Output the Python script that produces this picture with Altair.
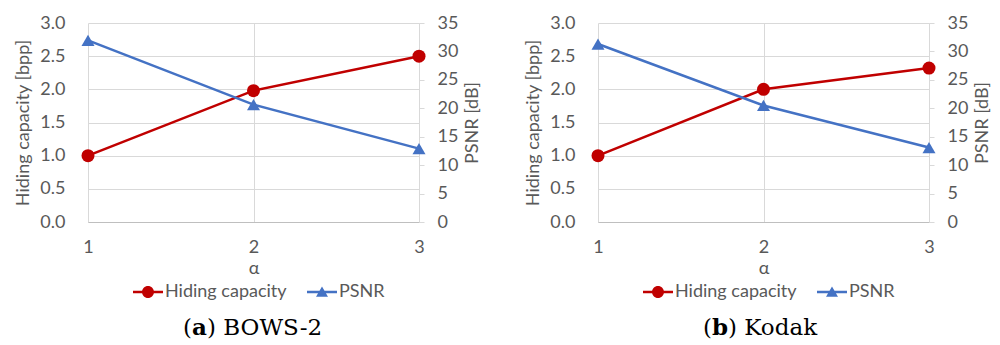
import altair as alt
import pandas as pd

alpha = [1, 2, 3]
hc_bows = [1.0, 1.98, 2.5]
psnr_bows = [31.95, 20.65, 12.9]
hc_kodak = [1.0, 2.0, 2.32]
psnr_kodak = [31.3, 20.5, 13.1]

series_names = ["Hiding capacity", "PSNR"]
caption_letters = ["a", "b"]
caption_names = ["BOWS-2", "Kodak"]
left_ticks = [0.0, 0.5, 1.0, 1.5, 2.0, 2.5, 3.0]
right_ticks = [0, 5, 10, 15, 20, 25, 30, 35]

RED = "#C00000"
BLUE = "#4472C4"
TXT = "#595959"
GRID = "#D9D9D9"
FONT = "Lato"
FS = 18

W, H = 331, 199

# legend symbols: line + marker (custom SVG paths)
CIRCLE_PATH = ("M-1,-0.085H1V0.085H-1Z "
               "M0.4,0A0.4,0.4 0 1,1 -0.4,0A0.4,0.4 0 1,1 0.4,0Z")
TRI_PATH = ("M-1,-0.085H1V0.085H-1Z "
            "M0,-0.36L0.4,0.32L-0.4,0.32Z")


def panel(hc, psnr, letter, name, xa, wbold):
    df = pd.DataFrame({"alpha": alpha, "hc": hc, "psnr": psnr})
    base = alt.Chart(df)
    x = alt.X(
        "alpha:O",
        scale=alt.Scale(type="point", padding=0),
        axis=alt.Axis(title="α", grid=True, labelAngle=0,
                      gridColor=GRID, domainColor="#BFBFBF", ticks=False,
                      labelPadding=16, titlePadding=3),
    )
    y_left = alt.Y(
        "hc:Q",
        scale=alt.Scale(domain=[0, 3], nice=False),
        axis=alt.Axis(values=left_ticks, format=".1f", orient="left",
                      title="Hiding capacity [bpp]", grid=True, gridColor=GRID,
                      domain=False, ticks=False, labelPadding=23,
                      titlePadding=7),
    )
    y_right = alt.Y(
        "psnr:Q",
        scale=alt.Scale(domain=[0, 35], nice=False),
        axis=alt.Axis(values=right_ticks, format="d", orient="right",
                      title="PSNR [dB]", titleAngle=270, titleBaseline="top",
                      grid=False, domain=True, domainColor=GRID, ticks=True,
                      tickSize=5, tickColor=GRID, labelPadding=13,
                      titlePadding=6),
    )
    hc_line = base.mark_line(color=RED, strokeWidth=2.5).encode(x=x, y=y_left)
    hc_pts = base.mark_point(filled=True, shape="circle", color=RED,
                             size=169, opacity=1).encode(x=x, y=y_left)
    ps_line = base.mark_line(color=BLUE, strokeWidth=2.5).encode(x=x, y=y_right)
    ps_pts = base.mark_point(filled=True, shape="triangle-up", color=BLUE,
                             size=169, opacity=1).encode(x=x, y=y_right)

    leg = alt.Legend(title=None, orient="none", legendX=45, legendY=254,
                     direction="horizontal", columns=2, symbolSize=900,
                     labelFont=FONT, labelFontSize=FS, labelColor=TXT,
                     labelOffset=2, columnPadding=20, padding=0,
                     symbolStrokeWidth=0)
    ldf = pd.DataFrame({"series": series_names})
    legend_layer = alt.Chart(ldf).mark_point(filled=True, opacity=1, size=900).encode(
        color=alt.Color("series:N",
                        scale=alt.Scale(domain=series_names, range=[RED, BLUE]),
                        legend=leg),
        shape=alt.Shape("series:N",
                        scale=alt.Scale(domain=series_names,
                                        range=[CIRCLE_PATH, TRI_PATH]),
                        legend=leg),
    ).transform_filter("false")

    cy = 305
    cdf = pd.DataFrame({"l": [letter], "n": [name]})
    cbase = alt.Chart(cdf)
    c1 = cbase.mark_text(text="(", font="DejaVu Serif", fontSize=23,
                         align="right", baseline="middle", color="black").encode(
        x=alt.value(xa), y=alt.value(cy))
    c2 = cbase.mark_text(font="DejaVu Serif", fontSize=23, fontWeight="bold",
                         align="left", baseline="middle", color="black").encode(
        x=alt.value(xa), y=alt.value(cy), text="l:N")
    c3 = cbase.transform_calculate(n2="') ' + datum.n").mark_text(
        font="DejaVu Serif", fontSize=23, align="left", baseline="middle",
        color="black").encode(x=alt.value(xa + wbold), y=alt.value(cy),
                              text="n2:N")

    left = alt.layer(hc_line, hc_pts)
    right = alt.layer(ps_line, ps_pts)
    return alt.layer(left, right, legend_layer, c1, c2, c3).resolve_scale(
        y="independent").properties(width=W, height=H)


pa = panel(hc_bows, psnr_bows, caption_letters[0], caption_names[0], 104, 15)
pb = panel(hc_kodak, psnr_kodak, caption_letters[1], caption_names[1], 114, 16)

chart = alt.hconcat(pa, pb, spacing=179, bounds="flush").resolve_scale(
    x="independent", y="independent", color="independent",
    shape="independent").resolve_legend(
    color="independent", shape="independent").properties(
    padding={"left": 6, "top": 6, "right": 0, "bottom": 0}
).configure_axis(
    labelFont=FONT, labelFontSize=FS, labelColor=TXT,
    titleFont=FONT, titleFontSize=FS, titleColor=TXT,
    titleFontWeight="normal",
).configure_view(stroke=None)

chart.save("out.html", embed_options={"renderer": "svg", "actions": False})
